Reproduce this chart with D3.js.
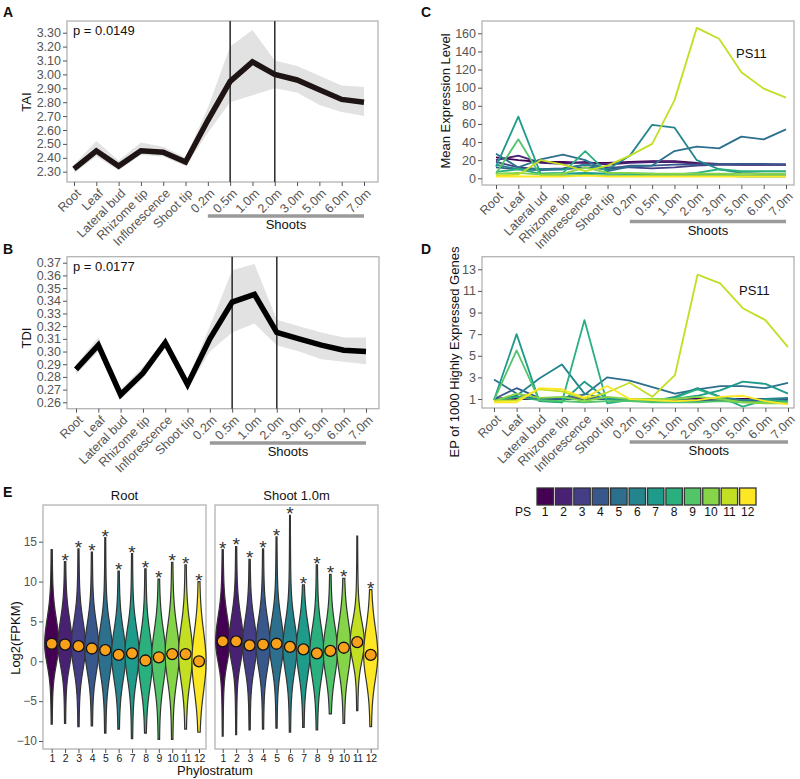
<!DOCTYPE html>
<html><head><meta charset="utf-8">
<script src="https://cdn.jsdelivr.net/npm/d3@7"></script>
<style>body{margin:0;background:#fff} text{font-family:"Liberation Sans",Arial,sans-serif}</style>
</head><body><svg id="c" width="800" height="779"></svg>
<script>
// ---------------- DATA ----------------
const tissues = ["Root","Leaf","Lateral bud","Rhizome tip","Inflorescence","Shoot tip","0.2m","0.5m","1.0m","2.0m","3.0m","5.0m","6.0m","7.0m"];
const tissuesC = ["Root","Leaf","Lateral ud","Rhizome tip","Inflorescence","Shoot tip","0.2m","0.5m","1.0m","2.0m","3.0m","5.0m","6.0m","7.0m"];
const shootCats = ["0.2m","7.0m"];

const taiMean = [2.32,2.45,2.34,2.45,2.44,2.37,2.67,2.95,3.09,3.00,2.96,2.89,2.82,2.80];
const taiLow  = [2.29,2.41,2.31,2.42,2.41,2.34,2.58,2.80,2.85,2.90,2.87,2.78,2.73,2.70];
const taiHigh = [2.35,2.52,2.38,2.51,2.48,2.40,2.76,3.20,3.32,3.10,3.06,2.99,2.92,2.91];
const taiTicks = [2.30,2.40,2.50,2.60,2.70,2.80,2.90,3.00,3.10,3.20,3.30];

const tdiMean = [0.286,0.305,0.266,0.283,0.307,0.274,0.310,0.339,0.345,0.315,0.310,0.305,0.301,0.300];
const tdiLow  = [0.282,0.300,0.262,0.279,0.303,0.270,0.300,0.315,0.322,0.305,0.300,0.294,0.292,0.290];
const tdiHigh = [0.290,0.311,0.270,0.288,0.310,0.278,0.320,0.364,0.369,0.325,0.320,0.315,0.311,0.311];
const tdiTicks = [0.26,0.27,0.28,0.29,0.30,0.31,0.32,0.33,0.34,0.35,0.36,0.37];

const phylostrata = ["1","2","3","4","5","6","7","8","9","10","11","12"];

const meanExpr = [
  [23,20,18,18,17,17,18,19,19,17,16,15,15,15],
  [20,25,17,16,18,15,17,18,18,16,15,15,15,15],
  [18,12,10,11,15,12,12,11,12,14,15,15,15,15],
  [12,10,9,10,12,10,14,14,15,15,16,16,16,15],
  [27,12,21,26,20,8,13,14,30,35,33,46,43,54],
  [15,10,10,10,15,10,25,59,56,20,10,6,5,5],
  [13,68,5,5,6,5,5,4,4,5,4,3,3,3],
  [7,10,5,6,30,6,5,5,4,6,10,8,8,8],
  [5,43,3,3,4,3,3,3,3,3,3,2,2,2],
  [5,6,4,5,12,6,6,5,5,5,5,5,5,5],
  [3,4,20,15,8,14,25,38,86,166,154,117,99,89],
  [2,2,2,2,3,2,2,2,2,2,2,2,2,2]
];
const exprTicks = [0,20,40,60,80,100,120,140,160];

const epHigh = [
  [1.0,1.1,1.0,1.0,1.0,1.0,1.0,1.0,1.0,1.0,1.0,1.0,1.0,1.0],
  [0.9,1.0,1.0,1.0,1.1,1.0,0.9,0.9,0.9,0.9,0.9,0.9,0.9,0.9],
  [1.0,1.2,1.0,1.0,1.1,1.0,1.0,1.0,0.9,0.8,0.8,0.8,0.8,0.8],
  [1.0,2.0,1.1,1.0,1.0,1.0,0.9,1.0,1.0,0.9,0.9,0.9,1.0,1.0],
  [2.8,1.5,1.0,1.1,1.4,3.0,2.7,2.1,1.5,1.9,2.2,2.2,2.0,2.5],
  [0.9,1.3,2.9,4.2,1.5,1.0,1.0,0.8,1.2,2.0,1.2,0.9,1.0,1.1],
  [0.9,7.0,0.8,0.7,2.6,1.0,0.9,0.8,1.0,1.3,1.8,2.6,2.4,1.5],
  [0.8,1.2,0.9,0.7,8.3,0.6,0.9,0.8,1.1,1.9,1.2,0.3,0.9,0.8],
  [0.9,5.5,0.9,0.8,0.7,0.8,0.8,0.7,0.7,0.7,0.8,0.7,0.7,0.7],
  [0.8,1.5,1.1,1.2,0.8,1.2,1.0,1.0,1.0,1.2,1.0,0.7,0.6,0.6],
  [0.8,0.9,1.9,1.7,1.0,1.6,2.5,1.2,3.2,12.5,11.7,9.4,8.3,5.8],
  [0.7,0.7,2.0,1.9,1.1,2.2,1.0,0.9,0.8,0.9,1.2,1.3,0.8,0.5]
];
const epTicks = [1,3,5,7,9,11,13];

// Violin summaries (Log2 FPKM)
const rootMin = [-7.9,-7.8,-8.2,-8.1,-9.0,-8.5,-9.7,-9.0,-9.8,-9.8,-8.5,-8.9];
const rootMax = [14.0,12.5,14.1,13.7,15.5,11.3,13.5,11.6,10.3,12.4,12.1,10.0];
const rootMed = [2.2,2.1,1.9,1.6,1.4,0.8,1.0,0.1,0.5,0.9,0.9,0.0];
const rootSpreadUp = [3.0,3.0,3.0,3.0,3.0,3.0,3.0,3.2,3.2,3.3,3.3,3.6];
const rootSpreadDn = [2.5,2.5,2.8,2.8,3.0,3.0,3.0,3.2,3.2,3.2,3.2,3.6];
const rootStar = [0,1,1,1,1,1,1,1,1,1,1,1];
const shootMin = [-9.4,-9.2,-8.6,-8.5,-8.4,-8.9,-8.3,-8.6,-6.6,-7.8,-6.2,-8.2];
const shootMax = [14.0,14.4,12.8,14.1,15.6,18.3,9.6,12.1,10.9,10.4,15.7,9.0];
const shootMed = [2.5,2.5,2.0,2.1,2.2,1.8,1.5,1.0,1.3,1.7,2.4,0.8];
const shootSpreadUp = [3.0,3.0,3.0,3.0,3.0,3.0,3.0,3.0,3.0,3.2,2.5,3.3];
const shootSpreadDn = [2.5,2.5,2.8,2.8,2.8,3.0,3.0,3.0,3.0,3.0,2.3,3.0];
const shootStar = [1,1,1,1,1,1,1,1,1,1,0,1];
const log2Ticks = [-10,-5,0,5,10,15];

// ---------------- DRAW ----------------
const svg = d3.select("#c");
const TXT = "#555", BOX = "#b3b3b3";
const FONT = "Liberation Sans, Arial, sans-serif";
const psColor = i => d3.interpolateViridis(i/11);

function frame(x0,y0,x1,y1){
  svg.append("rect").attr("x",x0).attr("y",y0).attr("width",x1-x0).attr("height",y1-y0)
    .attr("fill","none").attr("stroke",BOX).attr("stroke-width",1.3);
}
function yAxis(scale,x0,ticks,fmt,fs){
  const g = svg.append("g").attr("transform",`translate(${x0},0)`)
    .call(d3.axisLeft(scale).tickValues(ticks).tickFormat(fmt).tickSize(4).tickPadding(2));
  g.select(".domain").remove();
  g.selectAll("line").attr("stroke",TXT);
  g.selectAll("text").attr("fill",TXT).attr("font-size",fs||12.5).attr("font-family",FONT);
}
function xAxisRot(scale,yB,tx,ty){
  const g = svg.append("g").attr("transform",`translate(0,${yB})`)
    .call(d3.axisBottom(scale).tickSize(4));
  g.select(".domain").remove();
  g.selectAll("line").attr("stroke",TXT);
  g.selectAll("text").attr("fill",TXT).attr("font-size",12.5).attr("font-family",FONT)
    .attr("text-anchor","end").attr("x",0).attr("y",0).attr("dy","0.35em")
    .attr("transform",`translate(${tx},${ty}) rotate(-45)`);
}
function label(txt,x,y,opts={}){
  const t = svg.append("text").attr("x",x).attr("y",y).text(txt)
    .attr("font-size",opts.size||12).attr("fill",opts.fill||"#111")
    .attr("text-anchor",opts.anchor||"start");
  if(opts.bold) t.attr("font-weight","bold");
  if(opts.rot) t.attr("transform",`rotate(-90,${x},${y})`);
  return t;
}
function shootsBar(xs,x0,x1,y,ty){
  svg.append("line").attr("x1",x0).attr("x2",x1).attr("y1",y).attr("y2",y)
    .attr("stroke","#9a9a9a").attr("stroke-width",3.5);
  label("Shoots",(x0+x1)/2,ty,{anchor:"middle",size:13});
}

// Panel A / B
function indexPanel(cfg){
  const x = d3.scalePoint().domain(tissues).range(cfg.xr);
  const y = d3.scaleLinear().domain(cfg.yd).range(cfg.yr);
  frame(cfg.box[0],cfg.box[1],cfg.box[2],cfg.box[3]);
  const area = d3.area().x((d,i)=>x(tissues[i])).y0((d,i)=>y(cfg.low[i])).y1((d,i)=>y(cfg.high[i]));
  svg.append("path").datum(cfg.mean).attr("d",area).attr("fill","#e2e2e2");
  ["0.5m","2.0m"].forEach(c=>{
    svg.append("line").attr("x1",x(c)).attr("x2",x(c)).attr("y1",cfg.box[1]).attr("y2",cfg.box[3])
      .attr("stroke","#333").attr("stroke-width",1.6);
  });
  const line = d3.line().x((d,i)=>x(tissues[i])).y(d=>y(d));
  svg.append("path").datum(cfg.mean).attr("d",line).attr("fill","none")
    .attr("stroke",cfg.col).attr("stroke-width",5.5).attr("stroke-linejoin","miter");
  yAxis(y,cfg.box[0],cfg.ticks,cfg.fmt);
  xAxisRot(x,cfg.box[3],4,9);
  label(cfg.p,cfg.box[0]+6,cfg.box[1]+14,{size:13});
  label(cfg.ylab,cfg.yl[0],cfg.yl[1],{anchor:"middle",rot:true,size:13});
  shootsBar(x,x(shootCats[0]),x(shootCats[1]),cfg.bar,cfg.bar+13);
}
indexPanel({xr:[74,364],yd:[2.30,3.30],yr:[171.7,32.7],box:[67,21,378,182],low:taiLow,high:taiHigh,mean:taiMean,
  col:"#1e1414",ticks:taiTicks,fmt:d3.format(".2f"),p:"p = 0.0149",ylab:"TAI",yl:[31,102],bar:216});
indexPanel({xr:[76,366],yd:[0.26,0.37],yr:[402.3,262.7],box:[67,256.7,379,408.7],low:tdiLow,high:tdiHigh,mean:tdiMean,
  col:"#000",ticks:tdiTicks,fmt:d3.format(".2f"),p:"p = 0.0177",ylab:"TDI",yl:[31,338],bar:443});

// Panel C / D
function psPanel(cfg){
  const x = d3.scalePoint().domain(cfg.cats).range(cfg.xr);
  const y = d3.scaleLinear().domain(cfg.yd).range(cfg.yr);
  frame(cfg.box[0],cfg.box[1],cfg.box[2],cfg.box[3]);
  const line = d3.line().x((d,i)=>x(cfg.cats[i])).y(d=>y(d));
  cfg.data.forEach((s,k)=>{
    svg.append("path").datum(s).attr("d",line).attr("fill","none")
      .attr("stroke",psColor(k)).attr("stroke-width",1.8).attr("stroke-linejoin","round");
  });
  yAxis(y,cfg.box[0],cfg.ticks,d3.format("d"));
  xAxisRot(x,cfg.box[3],4,9);
  label("PS11",cfg.ps[0],cfg.ps[1],{size:13});
  label(cfg.ylab,cfg.yl[0],cfg.yl[1],{anchor:"middle",rot:true,size:13});
  shootsBar(x,x(shootCats[0]),x(shootCats[1]),cfg.bar,cfg.bar+13);
}
psPanel({cats:tissuesC,xr:[496,786],yd:[0,160],yr:[178.3,33.3],box:[482,21,794,185],data:meanExpr,ticks:exprTicks,
  ps:[736,58],ylab:"Mean Expression Level",yl:[450,101],bar:221.5});
psPanel({cats:tissues,xr:[494,788],yd:[1,13],yr:[399,269.3],box:[482,256.7,794,408],data:epHigh,ticks:epTicks,
  ps:[739,295],ylab:"EP of 1000 Highly Expressed Genes",yl:[459,352],bar:442});

// Legend
const lg = d3.scaleBand().domain(phylostrata).range([536,757]).padding(0);
phylostrata.forEach((p,i)=>{
  svg.append("rect").attr("x",lg(p)+1).attr("y",488).attr("width",lg.bandwidth()-2).attr("height",17)
    .attr("fill",psColor(i)).attr("stroke","#333").attr("stroke-width",1.3);
  label(p,lg(p)+lg.bandwidth()/2,516,{anchor:"middle",size:12});
});
label("PS",531,516,{anchor:"end",size:12});

// Panel E
const yE = d3.scaleLinear().domain([-10,15]).range([741,541.7]);
function violinFacet(cfg){
  const x = d3.scalePoint().domain(phylostrata).range(cfg.xr);
  frame(cfg.box[0],505,cfg.box[1],749);
  label(cfg.title,(cfg.box[0]+cfg.box[1])/2,500,{anchor:"middle",size:13});
  phylostrata.forEach((p,i)=>{
    const lo=cfg.min[i], hi=cfg.max[i], c=cfg.med[i];
    const pts=[];
    for(let k=0;k<=120;k++){
      const v = lo + (hi-lo)*k/120;
      const s = v>c ? cfg.up[i] : cfg.dn[i];
      const z = (v-c)/s;
      pts.push([v, 5.6*Math.exp(-0.5*z*z) + 1.1*Math.exp(-0.5*(z/2.2)*(z/2.2)) + 0.35]);
    }
    const area = d3.area().y(d=>yE(d[0])).x0(d=>x(p)-d[1]).x1(d=>x(p)+d[1]).curve(d3.curveBasis);
    svg.append("path").datum(pts).attr("d",area).attr("fill",psColor(i))
      .attr("stroke","#333").attr("stroke-width",1.2);
    svg.append("circle").attr("cx",x(p)).attr("cy",yE(c)).attr("r",5.5)
      .attr("fill","#f9a11b").attr("stroke","#111").attr("stroke-width",1.3);
    if(cfg.star[i]) label("*",x(p),yE(hi)+5,{anchor:"middle",size:19,fill:"#333"});
  });
  const g = svg.append("g").attr("transform","translate(0,749)").call(d3.axisBottom(x).tickSize(4).tickPadding(2));
  g.select(".domain").remove();
  g.selectAll("line").attr("stroke",TXT);
  g.selectAll("text").attr("fill","#222").attr("font-size",10.5).attr("letter-spacing",-0.4).attr("font-family",FONT);
}
violinFacet({xr:[51.7,199],box:[43,206],title:"Root",min:rootMin,max:rootMax,med:rootMed,up:rootSpreadUp,dn:rootSpreadDn,star:rootStar});
violinFacet({xr:[222.7,370.7],box:[215,378],title:"Shoot 1.0m",min:shootMin,max:shootMax,med:shootMed,up:shootSpreadUp,dn:shootSpreadDn,star:shootStar});
yAxis(yE,43,log2Ticks,d3.format("d"),12);
label("Log2(FPKM)",20,638,{anchor:"middle",rot:true,size:13});
label("Phylostratum",215,775,{anchor:"middle",size:13});

// Panel letters
label("A",3,17,{bold:true,size:14});
label("B",3,254,{bold:true,size:14});
label("C",421,17,{bold:true,size:14});
label("D",421,254,{bold:true,size:14});
label("E",3,497,{bold:true,size:14});
</script></body></html>
